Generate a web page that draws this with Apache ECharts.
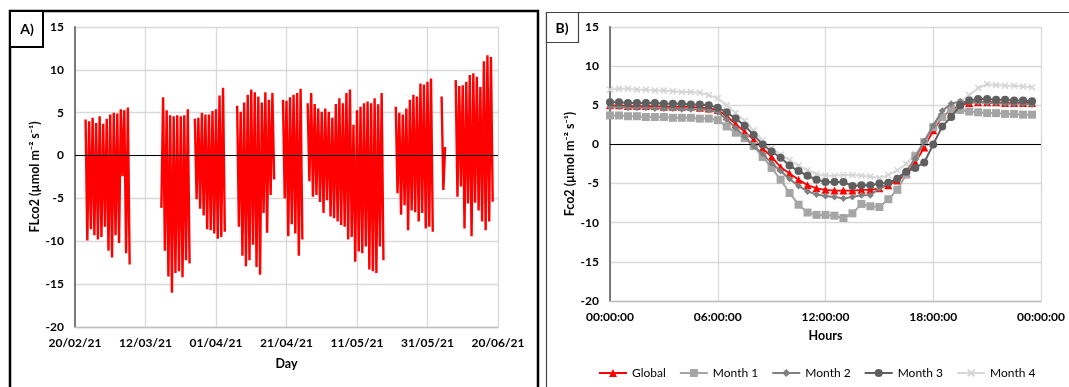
<!DOCTYPE html>
<html><head><meta charset="utf-8">
<script src="https://cdn.jsdelivr.net/npm/echarts@6/dist/echarts.min.js"></script>
<style>html,body{margin:0;padding:0;background:#fff}#c{width:1069px;height:387px}</style>
</head><body><div id="c"></div>
<script>
// ---------- Panel A: daily extremes of FLco2, indexed by day since 20/02/21 ----------
const startDate = Date.UTC(2021, 1, 20);
const dailyMax = [
  null, null, null,
  4.2, 4.0, 4.4, 3.8, 4.6, 3.7, 4.3, 4.8, 5.0, 4.9, 5.4, 5.3, 5.6,
  null, null, null, null, null, null, null, null,
  null,
  6.8, 5.3, 4.7, 4.6, 4.7, 4.6, 4.7, 5.4,
  null,
  4.3, 4.4, 5.0, 4.8, 4.8, 5.2, 5.4, 7.0, 7.9,
  null, null, null,
  5.8, 5.1, 6.2, 7.1, 7.7, 7.4, 6.9, 6.2, 7.4, 6.5, 7.3,
  null, null,
  6.5, 6.4, 6.8, 7.1, 7.3, 7.8,
  null,
  6.1, 7.3, 6.0, 5.5, 5.1, 5.5, 5.1, 4.4, 6.0, 6.7, 6.1, 7.3, 7.7, 3.6, 5.3, 5.7, 6.1, 6.3, 6.1, 6.7, 6.0, 7.3,
  null, null, null,
  5.7, 5.0, 4.8, 5.5, 6.5, 7.1, 6.9, 8.4, 8.3, 8.6, 9.0,
  null, null,
  6.9, 1.0,
  null, null,
  8.8, 8.1, 8.2, 8.6, 9.4, 9.6, 9.2, 8.0, 11.0, 11.7, 11.5,
  null
];
const dailyMin = [
  null, null, null,
  -9.9, -8.6, -9.3, -9.8, -9.5, -8.3, -11.1, -11.9, -9.3, -10.2, -2.4, -11.4, -12.7,
  null, null, null, null, null, null, null, null,
  -6.1,
  -11.1, -14.1, -16.0, -13.7, -13.5, -14.2, -12.2, -12.6,
  null,
  -5.1, -6.2, -7.0, -8.6, -8.7, -9.1, -9.7, -9.5, -8.9,
  null, null, null,
  -8.3, -11.7, -12.9, -12.2, -10.4, -13.0, -13.9, -6.7, -9.0, -4.6, -2.8,
  null, null,
  -5.0, -9.4, -8.0, -9.1, -11.7, -9.8,
  null,
  -3.0, -4.8, -4.6, -5.4, -6.7, -5.2, -7.1, -7.3, -7.7, -8.1, -8.3, -9.8, -9.5, -12.4, -11.2, -11.4, -10.6, -13.3, -13.5, -13.7, -10.6, -12.2,
  null, null, null,
  -4.4, -6.9, -5.8, -8.7, -6.4, -6.6, -7.7, -6.7, -8.5, -8.3, -8.9,
  null, null,
  -4.0, null,
  null, null,
  -4.8, -3.6, -8.5, -5.6, -9.4, -5.5, -6.4, -7.7, -8.7, -7.7, -5.4,
  null
];

// ---------- Panel B: mean diurnal cycle, half-hourly (00:00 .. 23:30) ----------
const hourTickLabels = ['00:00:00', '06:00:00', '12:00:00', '18:00:00', '00:00:00'];
const seriesNames = ['Global', 'Month 1', 'Month 2', 'Month 3', 'Month 4'];
const globalVals = [5.0,5.0,4.9,4.9,4.9,4.9,4.8,4.8,4.8,4.8,4.7,4.6,
  4.4,3.6,2.6,1.6,0.6,-0.5,-1.6,-2.9,-3.7,-4.5,-5.2,-5.6,
  -5.8,-5.9,-5.9,-5.9,-5.8,-5.8,-5.6,-5.2,-4.6,-3.8,-2.3,-0.4,
  1.8,3.5,4.4,5.0,5.3,5.4,5.4,5.4,5.3,5.3,5.3,5.3];
const month1Vals = [3.7,3.7,3.6,3.6,3.5,3.5,3.5,3.4,3.4,3.4,3.3,3.3,
  3.1,2.3,1.5,0.8,-0.2,-1.6,-3.0,-4.5,-6.2,-7.7,-8.7,-9.0,
  -9.0,-9.1,-9.4,-8.8,-7.6,-7.9,-8.0,-7.0,-5.8,-3.8,-1.5,0.3,
  2.2,3.5,4.5,4.4,4.2,4.1,4.0,4.0,3.9,3.9,3.8,3.8];
const month2Vals = [4.8,4.8,4.7,4.7,4.7,4.6,4.6,4.6,4.5,4.5,4.5,4.4,
  4.1,3.2,2.1,1.0,-0.2,-1.2,-2.4,-3.4,-4.4,-5.3,-6.0,-6.4,
  -6.6,-6.7,-6.9,-6.7,-6.5,-6.5,-5.6,-5.0,-4.3,-3.4,-1.8,0.4,
  2.4,4.3,5.2,5.5,5.4,5.4,5.3,5.3,5.2,5.2,5.2,5.1];
const month3Vals = [5.4,5.4,5.3,5.3,5.3,5.3,5.2,5.2,5.2,5.1,5.1,5.0,
  4.7,4.1,3.3,2.4,1.2,0.0,-0.9,-1.7,-2.7,-3.4,-4.0,-4.5,
  -4.8,-4.8,-4.8,-5.3,-5.2,-5.2,-5.0,-4.9,-4.4,-3.5,-3.0,-2.3,
  0.0,2.3,3.5,5.0,5.6,5.8,5.8,5.7,5.7,5.6,5.6,5.5];
const month4Vals = [7.0,7.1,7.1,7.0,7.0,6.9,6.9,6.8,6.7,6.7,6.6,6.3,
  5.9,5.0,4.0,3.0,1.8,0.5,-0.5,-1.3,-2.0,-2.7,-3.3,-3.8,
  -4.0,-4.0,-3.9,-3.9,-4.0,-4.1,-4.3,-3.9,-3.3,-2.5,-1.2,0.3,
  2.0,3.5,4.6,5.4,6.3,7.2,7.7,7.6,7.5,7.5,7.4,7.3];

// ---------- build ----------
const pad2 = n => (n < 10 ? '0' : '') + n;
function dayLabel(d) {
  const dt = new Date(startDate + d * 86400000);
  return pad2(dt.getUTCDate()) + '/' + pad2(dt.getUTCMonth() + 1) + '/' + String(dt.getUTCFullYear()).slice(2);
}
const aData = [];
for (let d = 0; d < dailyMax.length; d++) {
  aData.push([d, dailyMax[d] == null ? '-' : dailyMax[d]]);
  aData.push([d + 0.5, dailyMin[d] == null ? '-' : dailyMin[d]]);
}
const toXY = arr => arr.map((v, i) => [i * 0.5, v]);

const FONT = 'Lato';
const gridColor = '#d9d9d9';
const xCross = 'path://M0,1.5L1.5,0L5,3.5L8.5,0L10,1.5L6.5,5L10,8.5L8.5,10L5,6.5L1.5,10L0,8.5L3.5,5Z';

const chart = echarts.init(document.getElementById('c'), null, {renderer: 'canvas'});
const yAxisCommon = {
  type: 'value', min: -20, max: 15, interval: 5,
  nameLocation: 'middle', nameRotate: 90,
  nameTextStyle: {fontFamily: FONT, fontWeight: 'bold', fontSize: 12.5, color: '#000'},
  axisLine: {show: true, lineStyle: {color: '#7a7a7a', width: 2}},
  axisTick: {show: false},
  axisLabel: {fontFamily: FONT, fontWeight: 'bold', fontSize: 12, color: '#000', margin: 11},
  splitLine: {lineStyle: {color: gridColor, width: 1.3}}
};
const zeroLine = {
  silent: true, symbol: 'none', label: {show: false},
  lineStyle: {color: '#000', width: 1, type: 'solid'},
  data: [{yAxis: 0}]
};

const option = {
  animation: false,
  backgroundColor: '#fff',
  grid: [
    {left: 75, right: 571, top: 27, bottom: 60},
    {left: 610, right: 28, top: 27, bottom: 86}
  ],
  xAxis: [
    {
      gridIndex: 0, type: 'value', min: 0, max: 120, interval: 20,
      name: 'Day', nameLocation: 'middle', nameGap: 30,
      nameTextStyle: {fontFamily: FONT, fontWeight: 'bold', fontSize: 12.5, color: '#000'},
      axisLine: {onZero: false, lineStyle: {color: '#bfbfbf', width: 1.3}},
      axisTick: {show: false},
      axisLabel: {fontFamily: FONT, fontWeight: 'bold', fontSize: 12, color: '#000', margin: 10,
        formatter: v => dayLabel(v)},
      splitLine: {show: true, lineStyle: {color: gridColor, width: 1.3}}
    },
    {
      gridIndex: 1, type: 'value', min: 0, max: 24, interval: 6,
      name: 'Hours', nameLocation: 'middle', nameGap: 28,
      nameTextStyle: {fontFamily: FONT, fontWeight: 'bold', fontSize: 12.5, color: '#000'},
      axisLine: {onZero: false, lineStyle: {color: '#bfbfbf', width: 1.3}},
      axisTick: {show: false},
      axisLabel: {fontFamily: FONT, fontWeight: 'bold', fontSize: 12, color: '#000', margin: 10,
        formatter: v => hourTickLabels[Math.round(v / 6)]},
      splitLine: {show: true, lineStyle: {color: gridColor, width: 1.3}}
    }
  ],
  yAxis: [
    Object.assign({}, yAxisCommon, {gridIndex: 0, name: 'FLco2 (µmol m⁻² s⁻¹)', nameGap: 32}),
    Object.assign({}, yAxisCommon, {gridIndex: 1, name: 'Fco2 (µmol m⁻² s⁻¹)', nameGap: 34})
  ],
  legend: {
    left: 593, top: 362, itemWidth: 28, itemHeight: 10, itemGap: 13,
    textStyle: {fontFamily: FONT, fontSize: 12, color: '#000'},
    data: seriesNames
  },
  series: [
    {
      name: 'FLco2', type: 'line', xAxisIndex: 0, yAxisIndex: 0,
      data: aData, showSymbol: false, connectNulls: false,
      lineStyle: {color: '#ff0000', width: 2.4}, itemStyle: {color: '#ff0000'},
      markLine: zeroLine, z: 3
    },
    {
      name: seriesNames[0], type: 'line', xAxisIndex: 1, yAxisIndex: 1,
      data: toXY(globalVals), symbol: 'triangle', symbolSize: 8,
      lineStyle: {color: '#ff0000', width: 1.8}, itemStyle: {color: '#ff0000'},
      markLine: zeroLine, z: 3
    },
    {
      name: seriesNames[1], type: 'line', xAxisIndex: 1, yAxisIndex: 1,
      data: toXY(month1Vals), symbol: 'rect', symbolSize: 8,
      lineStyle: {color: '#a5a5a5', width: 2}, itemStyle: {color: '#a5a5a5'}, z: 4
    },
    {
      name: seriesNames[2], type: 'line', xAxisIndex: 1, yAxisIndex: 1,
      data: toXY(month2Vals), symbol: 'diamond', symbolSize: 7,
      lineStyle: {color: '#808080', width: 2}, itemStyle: {color: '#808080'}, z: 5
    },
    {
      name: seriesNames[3], type: 'line', xAxisIndex: 1, yAxisIndex: 1,
      data: toXY(month3Vals), symbol: 'circle', symbolSize: 8,
      lineStyle: {color: '#5f5f5f', width: 2}, itemStyle: {color: '#5f5f5f'}, z: 6
    },
    {
      name: seriesNames[4], type: 'line', xAxisIndex: 1, yAxisIndex: 1,
      data: toXY(month4Vals), symbol: xCross, symbolSize: 7,
      lineStyle: {color: '#d9d9d9', width: 2}, itemStyle: {color: '#d4d4d4'}, z: 2
    }
  ],
  graphic: [
    {type: 'rect', shape: {x: 10, y: 11, width: 528, height: 390}, style: {fill: 'none', stroke: '#000', lineWidth: 2.5}, silent: true},
    {type: 'rect', shape: {x: 10, y: 11, width: 33, height: 36}, style: {fill: '#fff', stroke: '#000', lineWidth: 2}, silent: true},
    {type: 'text', x: 27, y: 29, style: {text: 'A)', font: 'bold 14px Lato', fill: '#000', textAlign: 'center', textVerticalAlign: 'middle'}, silent: true},
    {type: 'rect', shape: {x: 546.5, y: 12.5, width: 540, height: 390}, style: {fill: 'none', stroke: '#444', lineWidth: 1.2}, silent: true},
    {type: 'rect', shape: {x: 546.5, y: 12.5, width: 32, height: 30}, style: {fill: '#fff', stroke: '#444', lineWidth: 1.2}, silent: true},
    {type: 'text', x: 562, y: 28, style: {text: 'B)', font: 'bold 14px Lato', fill: '#000', textAlign: 'center', textVerticalAlign: 'middle'}, silent: true}
  ]
};
chart.setOption(option);
</script></body></html>
